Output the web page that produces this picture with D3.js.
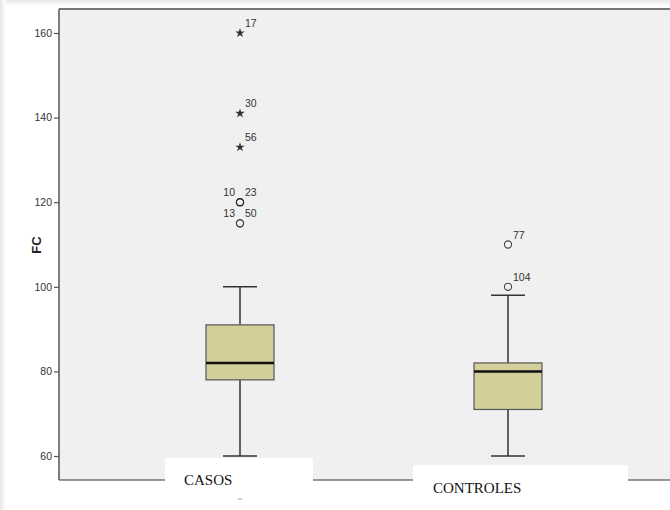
<!DOCTYPE html>
<html>
<head>
<meta charset="utf-8">
<script src="https://cdn.jsdelivr.net/npm/d3@7"></script>
<style>
  html, body { margin: 0; padding: 0; background: #fff; }
  svg { display: block; }
</style>
</head>
<body>
<svg id="chart" width="670" height="510"></svg>
<script>
// Groups and their box summaries (heart rate, FC)
const groups = ["CASOS", "CONTROLES"];
const whiskerLow = [60, 60];
const q1 = [78, 71];
const median = [82, 80];
const q3 = [91, 82];
const whiskerHigh = [100, 98];

// Outlying cases: group index, value, case id, kind, label side
const outGroup = [0, 0, 0, 0, 0, 0, 0, 1, 1];
const outValue = [160, 141, 133, 120, 120, 115, 115, 110, 100];
const outId = ["17", "30", "56", "10", "23", "13", "50", "77", "104"];
const outKind = ["extreme", "extreme", "extreme", "out", "out", "out", "out", "out", "out"];
const outSide = ["r", "r", "r", "l", "r", "l", "r", "r", "r"];

const yTicks = [60, 80, 100, 120, 140, 160];

const svg = d3.select("#chart");

// Soft frame along the top and left edges
const defs = svg.append("defs");
const gTop = defs.append("linearGradient").attr("id", "edgeTop").attr("x1", 0).attr("y1", 0).attr("x2", 0).attr("y2", 1);
gTop.append("stop").attr("offset", 0).attr("stop-color", "#e6e6e6");
gTop.append("stop").attr("offset", 1).attr("stop-color", "#ffffff");
const gLeft = defs.append("linearGradient").attr("id", "edgeLeft").attr("x1", 0).attr("y1", 0).attr("x2", 1).attr("y2", 0);
gLeft.append("stop").attr("offset", 0).attr("stop-color", "#e6e6e6");
gLeft.append("stop").attr("offset", 1).attr("stop-color", "#ffffff");
svg.append("rect").attr("x", 0).attr("y", 0).attr("width", 670).attr("height", 6).attr("fill", "url(#edgeTop)");
svg.append("rect").attr("x", 0).attr("y", 0).attr("width", 6).attr("height", 510).attr("fill", "url(#edgeLeft)");

const plot = { left: 59, top: 9, right: 672, bottom: 480 };

const y = d3.scaleLinear().domain([60, 160]).range([456, 33]);
const x = d3.scalePoint().domain(groups).range([240, 508]);

// Plot background
svg.append("rect")
  .attr("x", plot.left).attr("y", plot.top)
  .attr("width", plot.right - plot.left).attr("height", plot.bottom - plot.top)
  .attr("fill", "#f0f0f0");

// Frame: top edge and x baseline
svg.append("line").attr("x1", plot.left).attr("x2", plot.right).attr("y1", plot.top).attr("y2", plot.top)
  .attr("stroke", "#777").attr("stroke-width", 2);
svg.append("line").attr("x1", plot.left).attr("x2", plot.right).attr("y1", plot.bottom).attr("y2", plot.bottom)
  .attr("stroke", "#777").attr("stroke-width", 1.5);

// Y axis
const yAxis = svg.append("g")
  .attr("transform", `translate(${plot.left},0)`)
  .call(d3.axisLeft(y).tickValues(yTicks).tickSize(5).tickPadding(2).tickSizeOuter(0));
yAxis.select(".domain").remove();
yAxis.append("line").attr("x1", 0).attr("x2", 0).attr("y1", plot.top).attr("y2", plot.bottom)
  .attr("stroke", "#555").attr("stroke-width", 1.5);
yAxis.selectAll(".tick line").attr("stroke", "#555").attr("stroke-width", 1.2);
yAxis.selectAll(".tick text")
  .attr("font-family", "Liberation Sans, Arial, sans-serif")
  .attr("font-size", 10.5).attr("fill", "#333");

svg.append("text")
  .attr("transform", "translate(41,245) rotate(-90)")
  .attr("text-anchor", "middle")
  .attr("font-family", "Liberation Sans, Arial, sans-serif")
  .attr("font-weight", "bold").attr("font-size", 13).attr("fill", "#222")
  .text("FC");

// Boxes
const boxW = 68, capW = 34;
const stroke = "#333";
groups.forEach((g, i) => {
  const cx = x(g);
  const bx = svg.append("g");
  // whiskers
  bx.append("line").attr("x1", cx).attr("x2", cx).attr("y1", y(whiskerHigh[i])).attr("y2", y(q3[i]))
    .attr("stroke", stroke).attr("stroke-width", 1.5);
  bx.append("line").attr("x1", cx).attr("x2", cx).attr("y1", y(q1[i])).attr("y2", y(whiskerLow[i]))
    .attr("stroke", stroke).attr("stroke-width", 1.5);
  [whiskerHigh[i], whiskerLow[i]].forEach(v => {
    bx.append("line").attr("x1", cx - capW / 2).attr("x2", cx + capW / 2).attr("y1", y(v)).attr("y2", y(v))
      .attr("stroke", stroke).attr("stroke-width", 1.5);
  });
  // box
  bx.append("rect")
    .attr("x", cx - boxW / 2).attr("y", y(q3[i]))
    .attr("width", boxW).attr("height", y(q1[i]) - y(q3[i]))
    .attr("fill", "#d3cf9a").attr("stroke", "#555").attr("stroke-width", 1.2);
  // median
  bx.append("line").attr("x1", cx - boxW / 2).attr("x2", cx + boxW / 2).attr("y1", y(median[i])).attr("y2", y(median[i]))
    .attr("stroke", "#111").attr("stroke-width", 2.5);
});

// Outliers and extremes; coincident cases darken the shared marker
const star = d3.symbol().type(d3.symbolStar).size(28);
outValue.forEach((v, k) => {
  const cx = x(groups[outGroup[k]]);
  const cy = y(v);
  if (outKind[k] === "extreme") {
    svg.append("path").attr("d", star).attr("transform", `translate(${cx},${cy})`).attr("fill", "#333");
  } else {
    const shared = outValue.filter((w, j) => w === v && outGroup[j] === outGroup[k]).length > 1
      && v === 120;
    svg.append("circle").attr("cx", cx).attr("cy", cy).attr("r", 3.6)
      .attr("fill", "none").attr("stroke", shared ? "#222" : "#444").attr("stroke-width", shared ? 1.1 : 1.1);
  }
  const side = outSide[k];
  svg.append("text")
    .attr("x", side === "r" ? cx + 5 : cx - 5)
    .attr("y", cy - 6)
    .attr("text-anchor", side === "r" ? "start" : "end")
    .attr("font-family", "Liberation Sans, Arial, sans-serif")
    .attr("font-size", 10.5).attr("fill", "#333")
    .text(outId[k]);
});

// Category labels on white panels over the baseline
const labelBoxes = [
  { x: 165, y: 458, w: 148, tx: 184, ty: 485 },
  { x: 413, y: 465, w: 215, tx: 433, ty: 493 }
];
groups.forEach((g, i) => {
  const b = labelBoxes[i];
  svg.append("rect").attr("x", b.x).attr("y", b.y).attr("width", b.w).attr("height", 510 - b.y).attr("fill", "#fff");
  svg.append("text").attr("x", b.tx).attr("y", b.ty)
    .attr("font-family", "Liberation Serif, Times New Roman, serif")
    .attr("font-size", 15).attr("fill", "#111")
    .text(g);
});
// small leftover tick under the first category
svg.append("line").attr("x1", x(groups[0]) - 2).attr("x2", x(groups[0]) + 2).attr("y1", 499).attr("y2", 499)
  .attr("stroke", "#999").attr("stroke-width", 1);
</script>
</body>
</html>
